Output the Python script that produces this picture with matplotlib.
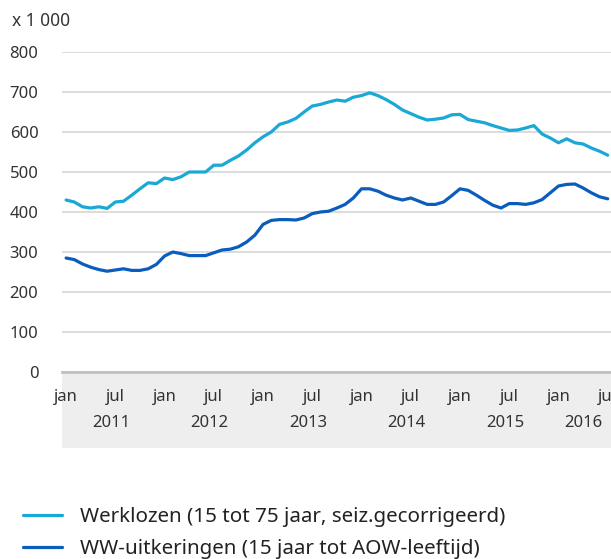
import numpy as np
import matplotlib
matplotlib.use("Agg")
import matplotlib.pyplot as plt
from matplotlib.patches import Rectangle

plt.rcParams['font.family'] = ['Noto Sans', 'DejaVu Sans']

# maandcijfers jan 2011 - jul 2016, x 1 000
werklozen = [430, 425, 413, 410, 413, 409, 425, 427, 442, 458, 473, 471, 485, 481, 488, 500, 500,
             500, 517, 517, 529, 540, 555, 573, 588, 600, 619, 625, 634, 650, 665, 669, 675, 680,
             677, 687, 691, 698, 691, 681, 669, 655, 646, 637, 630, 632, 635, 643, 644, 631, 627,
             623, 616, 610, 604, 605, 610, 616, 595, 585, 573, 583, 573, 570, 560, 552, 542]
ww_uitkeringen = [285, 281, 270, 262, 256, 252, 255, 258, 254, 254, 258, 269, 290, 300, 296, 291, 291,
                  291, 298, 305, 307, 313, 325, 342, 369, 379, 381, 381, 380, 385, 396, 400, 402, 410,
                  419, 435, 458, 458, 452, 442, 435, 430, 435, 427, 419, 419, 425, 441, 458, 454, 442,
                  429, 417, 410, 421, 421, 419, 423, 431, 448, 465, 469, 470, 460, 448, 438, 433]
month_labels = ['jan', 'jul'] * 6
years = ['2011', '2012', '2013', '2014', '2015', '2016']
series_names = ['Werklozen (15 tot 75 jaar, seiz.gecorrigeerd)',
                'WW-uitkeringen (15 jaar tot AOW-leeftijd)']

W, H = 611, 559
fig = plt.figure(figsize=(W / 100, H / 100), dpi=100)
ax = fig.add_axes([62 / W, 1 - 372 / H, (W - 62) / W, 320 / H])

x = np.arange(len(werklozen))
l1, = ax.plot(x, werklozen, color='#1aa8d4', lw=2.3, solid_capstyle='round')
l2, = ax.plot(x, ww_uitkeringen, color='#0a5cbd', lw=2.3, solid_capstyle='round')

ax.set_xlim(-0.5, 66.4)
ax.set_ylim(0, 800)
ax.set_yticks(range(0, 801, 100))
ax.yaxis.grid(True, color='#d9d9d9', lw=1.3)
ax.set_axisbelow(True)
for s in ['top', 'right', 'left']:
    ax.spines[s].set_visible(False)
ax.spines['bottom'].set_color('#c0c0c0')
ax.spines['bottom'].set_linewidth(2)
ax.tick_params(axis='y', length=0, pad=17, labelsize=12, labelcolor='#333333')

# maand- en jaarlabels (jaar gecentreerd over zijn maanden)
ax.set_xticks(np.arange(0, 67, 6))
ax.set_xticklabels(month_labels)
year_pos = [5.5, 17.5, 29.5, 41.5, 53.5, 63]
ax.set_xticks(year_pos, minor=True)
ax.set_xticklabels(years, minor=True)
ax.tick_params(axis='x', which='major', length=0, pad=12, labelsize=12, labelcolor='#333333')
ax.tick_params(axis='x', which='minor', length=0, pad=31, labelsize=12, labelcolor='#333333')

band = Rectangle((0, -76 / 320), 1, 76 / 320, transform=ax.transAxes, clip_on=False,
                 facecolor='#eeeeee', edgecolor='none', zorder=0)
ax.add_patch(band)

fig.text(12 / W, 1 - 21 / H, 'x 1 000', fontsize=12.5, color='#333333', va='center')

fig.legend([l1, l2], series_names, loc='upper left', bbox_to_anchor=(23 / W, 1 - 507 / H),
           frameon=False, fontsize=14.8, handlelength=1.9, handletextpad=0.85, labelspacing=0.58,
           borderpad=0, borderaxespad=0, labelcolor='#222222')

fig.savefig('out.png', dpi=100)
